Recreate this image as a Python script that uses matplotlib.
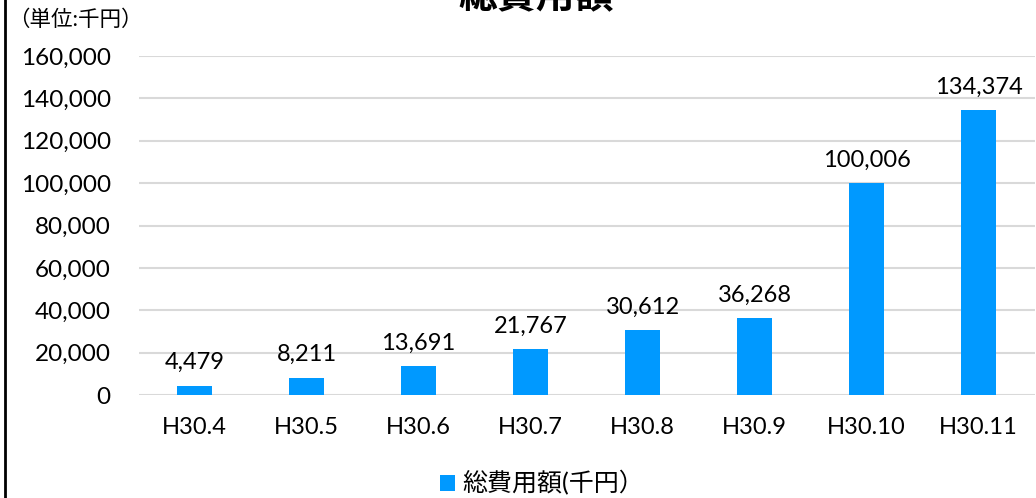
import matplotlib.pyplot as plt
from matplotlib.lines import Line2D
from matplotlib.patches import Patch

# data
months = ['H30.4', 'H30.5', 'H30.6', 'H30.7', 'H30.8', 'H30.9', 'H30.10', 'H30.11']
costs = [4479, 8211, 13691, 21767, 30612, 36268, 100006, 134374]
yticks = [0, 20000, 40000, 60000, 80000, 100000, 120000, 140000, 160000]

FONT = ['Lato', 'Noto Sans CJK JP']
plt.rcParams['font.family'] = FONT
BAR_COLOR = '#0099FF'

fig = plt.figure(figsize=(10.36, 4.98), dpi=100)
ax = fig.add_axes([0.1337, 0.2068, 0.865, 0.6807])

x = range(len(months))
ax.bar(x, costs, width=0.31, color=BAR_COLOR, zorder=3)

for xi, v in zip(x, costs):
    ax.annotate(f'{v:,}', (xi, v), xytext=(0, 9), textcoords='offset points',
                ha='center', va='bottom', fontsize=17, color='#000000')

ax.set_xlim(-0.5, len(months) - 0.5)
ax.set_ylim(0, 160000)
ax.set_yticks(yticks)
ax.set_yticklabels([f'{t:,}' for t in yticks], fontsize=17.5)
ax.set_xticks(list(x))
ax.set_xticklabels(months, fontsize=17)
ax.tick_params(axis='both', length=0)
ax.tick_params(axis='y', pad=20)
ax.tick_params(axis='x', pad=16)
ax.grid(axis='y', color='#D9D9D9', linewidth=1.5, zorder=0)
for s in ax.spines.values():
    s.set_visible(False)

# title (partly cut off at the top, as in the source)
fig.text(536 / 1036, 1 - 8 / 498, '総費用額', ha='center', va='baseline',
         fontsize=28, fontweight='bold', family=FONT)
fig.text(8 / 1036, 1 - 20 / 498, '（単位:千円）', ha='left', va='center',
         fontsize=15.5, family=FONT)

# legend
handle = Patch(facecolor=BAR_COLOR, edgecolor='none')
fig.legend([handle], ['総費用額(千円）'], loc='center', bbox_to_anchor=(542 / 1036, 1 - 483 / 498),
           frameon=False, fontsize=18, handlelength=0.6, handleheight=0.6, handletextpad=0.3)

# left border of the chart frame
fig.add_artist(Line2D([5 / 1036, 5 / 1036], [0, 1], transform=fig.transFigure,
                      color='#000000', linewidth=2))

fig.savefig('out.png', dpi=100)
